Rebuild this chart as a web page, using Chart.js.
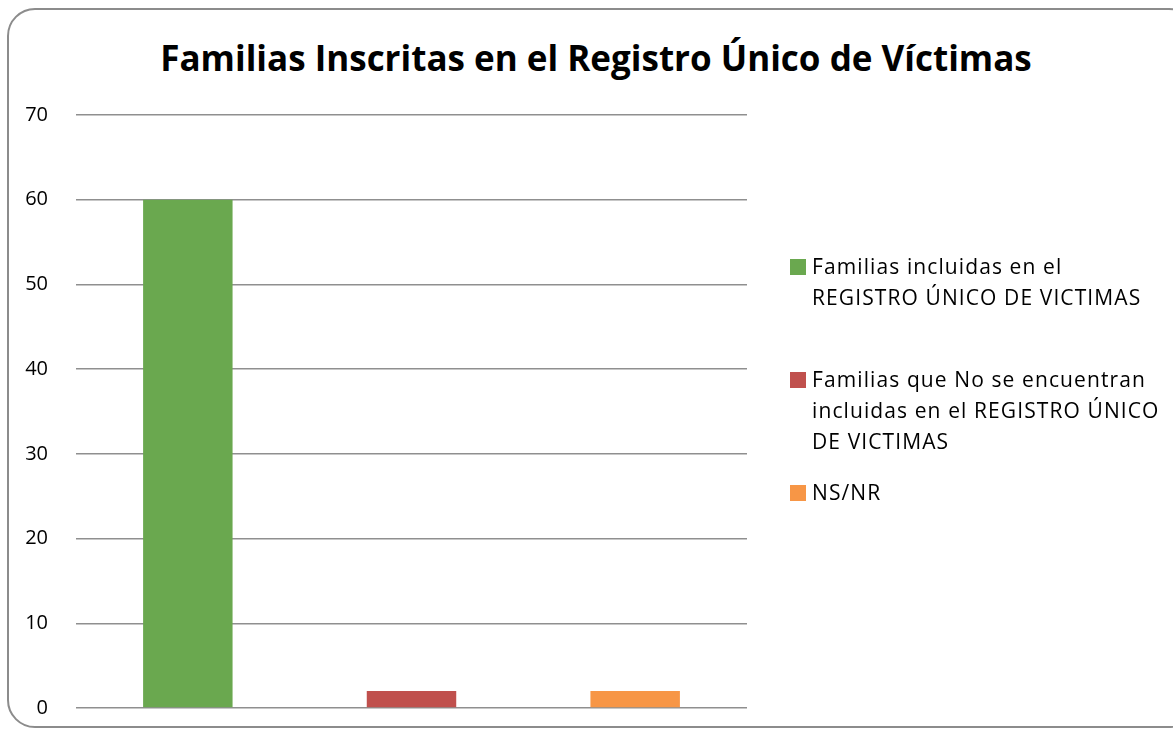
<!DOCTYPE html>
<html>
<head>
<meta charset="utf-8">
<script src="https://cdn.jsdelivr.net/npm/chart.js@4/dist/chart.umd.min.js"></script>
<style>
  html, body { margin: 0; padding: 0; background: #fff; overflow: hidden; }
  body { width: 1173px; height: 730px; position: relative; font-family: "Open Sans", sans-serif; }
  .frame {
    position: absolute; left: 7px; top: 8px; width: 1190px; height: 720px;
    border: 2px solid #8c8c8c; border-radius: 28px; box-sizing: border-box;
  }
  .title {
    position: absolute; left: 0; top: 34px; width: 1192px; text-align: center;
    font-weight: bold; font-size: 35px; color: #000; white-space: nowrap;
  }
  #chartBox { position: absolute; left: 0; top: 0; width: 1173px; height: 730px; overflow: hidden; }
  .legend-item { position: absolute; left: 790px; font-size: 21px; letter-spacing: 1.1px; line-height: 31px; color: #000; }
  .legend-item .sw { position: absolute; left: 0; top: 8px; width: 16px; height: 16px; }
  .legend-item .txt { margin-left: 22px; white-space: nowrap; }
</style>
</head>
<body>
<div class="frame"></div>
<div class="title" id="title"></div>
<div id="chartBox"><canvas id="chart" width="1173" height="748"></canvas></div>
<div id="legend"></div>
<script>
// chart values
const chartTitle = 'Familias Inscritas en el Registro Único de Víctimas'
const categories = ['', '', '']
const seriesNames = [
  ['Familias incluidas en el', 'REGISTRO ÚNICO DE VICTIMAS'],
  ['Familias que No se encuentran', 'incluidas en el REGISTRO ÚNICO', 'DE VICTIMAS'],
  ['NS/NR']
]
const seriesValues = [
  [60, null, null],
  [null, 2, null],
  [null, null, 2]
]
const seriesColors = ['#6aa84f', '#c0504d', '#f79646']
const yTicks = [0, 10, 20, 30, 40, 50, 60, 70]

// legend entry tops (px), Excel spreads them unevenly
const legendTops = [251, 364, 477]

document.getElementById('title').textContent = chartTitle

const legendEl = document.getElementById('legend')
seriesNames.forEach((lines, i) => {
  const item = document.createElement('div')
  item.className = 'legend-item'
  item.style.top = legendTops[i] + 'px'
  item.innerHTML = '<span class="sw" style="background:' + seriesColors[i] + '"></span>' +
    '<div class="txt">' + lines.join('<br>') + '</div>'
  legendEl.appendChild(item)
})

const ctx = document.getElementById('chart').getContext('2d')
new Chart(ctx, {
  type: 'bar',
  data: {
    labels: categories,
    datasets: seriesValues.map((vals, i) => ({
      label: seriesNames[i].join(' '),
      data: vals,
      backgroundColor: seriesColors[i],
      borderWidth: 0,
      grouped: false,
      barPercentage: 0.4,
      categoryPercentage: 1.0
    }))
  },
  options: {
    responsive: false,
    animation: false,
    events: [],
    layout: { padding: { left: 0, top: 115, right: 426, bottom: 4 } },
    plugins: {
      legend: { display: false },
      title: { display: false },
      tooltip: { enabled: false }
    },
    scales: {
      x: {
        display: false
      },
      y: {
        min: 0,
        max: 70,
        afterFit: (scale) => { scale.width = 76 },
        afterBuildTicks: (scale) => { scale.ticks = yTicks.map(v => ({ value: v })) },
        border: { display: false },
        grid: { color: '#8f8f8f', lineWidth: 1.4, drawTicks: false },
        ticks: {
          padding: 28,
          color: '#000',
          font: { family: 'Open Sans', size: 20 }
        }
      }
    }
  }
})
</script>
</body>
</html>
